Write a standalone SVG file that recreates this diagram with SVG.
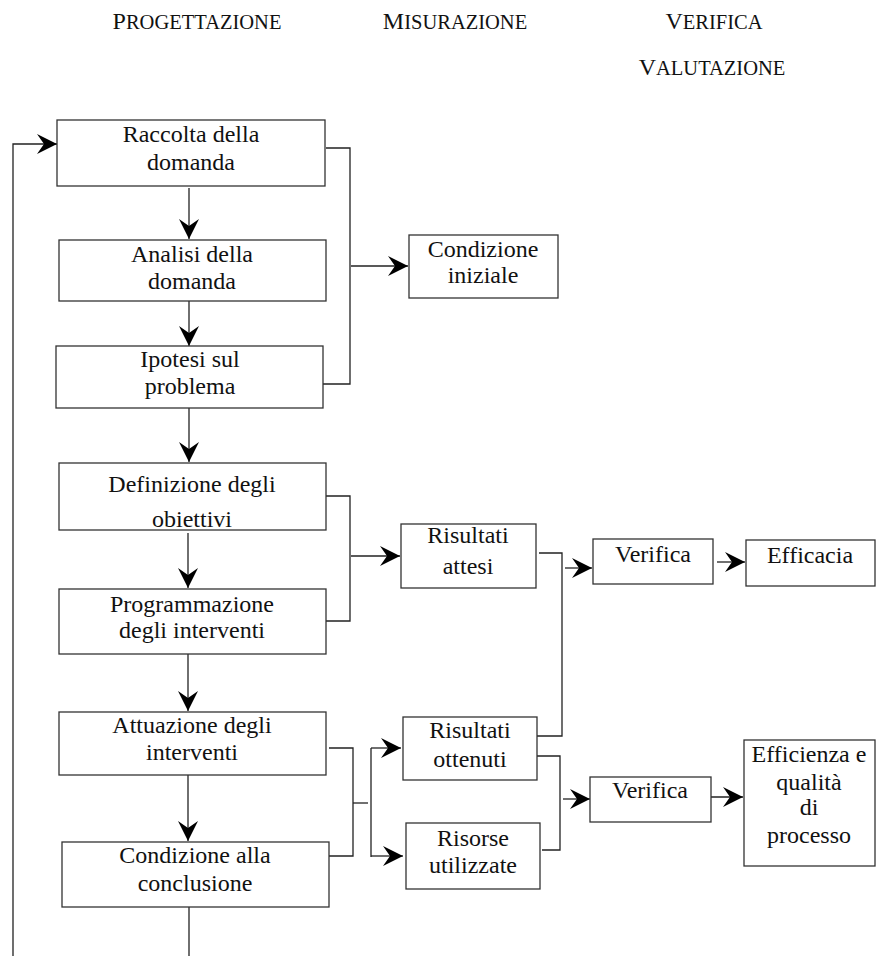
<svg xmlns="http://www.w3.org/2000/svg" width="876" height="956" viewBox="0 0 876 956">
<defs>
<style>
.box{fill:#fff;stroke:#333;stroke-width:1.3}
.ln{fill:none;stroke:#222;stroke-width:1.3}
.arr{fill:none;stroke:#222;stroke-width:1.3;marker-end:url(#ah)}
text{font-family:"Liberation Serif","Times New Roman",serif;font-size:24px;fill:#111;text-anchor:middle}
.sc{font-size:20.5px}
</style>
<marker id="ah" markerUnits="userSpaceOnUse" markerWidth="22" markerHeight="22" viewBox="-21 -11 22 22" refX="0" refY="0" orient="auto">
<path d="M0,0 L-20,-10 L-13,0 L-20,10 Z" fill="#000"/>
</marker>
</defs>
<rect width="876" height="956" fill="#fff"/>

<g id="headers">
<text x="197" y="29">P<tspan class="sc">ROGETTAZIONE</tspan></text>
<text x="455" y="29">M<tspan class="sc">ISURAZIONE</tspan></text>
<text x="714" y="29">V<tspan class="sc">ERIFICA</tspan></text>
<text x="712" y="75">V<tspan class="sc">ALUTAZIONE</tspan></text>
</g>

<g id="connectors">
<path class="arr" d="M13,956 V144 H57"/>
<path class="arr" d="M189,188 V239"/>
<path class="arr" d="M189,301 V346"/>
<path class="arr" d="M189,408 V462"/>
<path class="arr" d="M188,533 V588"/>
<path class="arr" d="M188,654 V711"/>
<path class="arr" d="M188,775 V841"/>
<path class="ln" d="M189,907 V956"/>
<path class="ln" d="M326,148 H350 V384 H323"/>
<path class="arr" d="M351,266 H408"/>
<path class="ln" d="M326,496 H350 V621 H326"/>
<path class="arr" d="M351,556 H400"/>
<path class="ln" d="M539,553 H562 V736 H537"/>
<path class="arr" d="M565,568 H592"/>
<path class="arr" d="M717,562 H745"/>
<path class="ln" d="M329,748 H353 V856 H329"/>
<path class="ln" d="M353,803 H368"/>
<path class="ln" d="M371,748 V857"/>
<path class="arr" d="M371,748 H401"/>
<path class="arr" d="M371,856 H403"/>
<path class="ln" d="M537,756 H560 V850 H542"/>
<path class="arr" d="M563,799 H590"/>
<path class="arr" d="M709,797 H743"/>
</g>

<g id="raccolta">
<rect class="box" x="57" y="120" width="268" height="66"/>
<text x="191" y="142">Raccolta della</text>
<text x="191" y="170">domanda</text>
</g>
<g id="analisi">
<rect class="box" x="59" y="240" width="267" height="61"/>
<text x="192" y="262">Analisi della</text>
<text x="192" y="289">domanda</text>
</g>
<g id="ipotesi">
<rect class="box" x="56" y="346" width="267" height="62"/>
<text x="190" y="367">Ipotesi sul</text>
<text x="190" y="394">problema</text>
</g>
<g id="condizione-iniziale">
<rect class="box" x="409" y="235" width="149" height="63"/>
<text x="483" y="257">Condizione</text>
<text x="483" y="283">iniziale</text>
</g>
<g id="definizione">
<rect class="box" x="59" y="463" width="267" height="67"/>
<text x="192" y="492">Definizione degli</text>
<text x="192" y="527">obiettivi</text>
</g>
<g id="programmazione">
<rect class="box" x="59" y="589" width="267" height="65"/>
<text x="192" y="612">Programmazione</text>
<text x="192" y="638">degli interventi</text>
</g>
<g id="risultati-attesi">
<rect class="box" x="401" y="524" width="135" height="64"/>
<text x="468" y="543">Risultati</text>
<text x="468" y="574">attesi</text>
</g>
<g id="verifica1">
<rect class="box" x="593" y="539" width="120" height="45"/>
<text x="653" y="562">Verifica</text>
</g>
<g id="efficacia">
<rect class="box" x="746" y="540" width="129" height="46"/>
<text x="810" y="563">Efficacia</text>
</g>
<g id="attuazione">
<rect class="box" x="59" y="712" width="267" height="63"/>
<text x="192" y="733">Attuazione degli</text>
<text x="192" y="760">interventi</text>
</g>
<g id="condizione-conclusione">
<rect class="box" x="62" y="842" width="267" height="65"/>
<text x="195" y="863">Condizione alla</text>
<text x="195" y="891">conclusione</text>
</g>
<g id="risultati-ottenuti">
<rect class="box" x="403" y="717" width="134" height="63"/>
<text x="470" y="738">Risultati</text>
<text x="470" y="767">ottenuti</text>
</g>
<g id="risorse">
<rect class="box" x="406" y="823" width="134" height="66"/>
<text x="473" y="846">Risorse</text>
<text x="473" y="873">utilizzate</text>
</g>
<g id="verifica2">
<rect class="box" x="590" y="777" width="121" height="45"/>
<text x="650" y="798">Verifica</text>
</g>
<g id="efficienza">
<rect class="box" x="744" y="740" width="131" height="126"/>
<text x="809" y="762">Efficienza e</text>
<text x="809" y="790">qualità</text>
<text x="809" y="815">di</text>
<text x="809" y="843">processo</text>
</g>
</svg>
